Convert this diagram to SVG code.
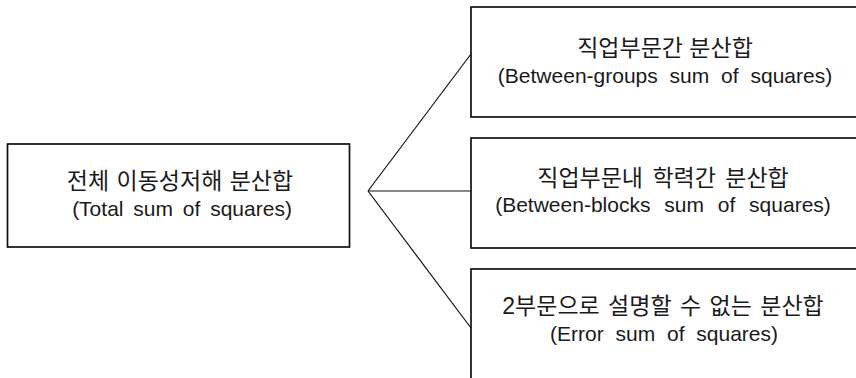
<svg xmlns="http://www.w3.org/2000/svg" width="856" height="378" viewBox="0 0 856 378">
<style>
.box{fill:#fff;stroke:#111;stroke-width:1.7}
.con{fill:none;stroke:#111;stroke-width:1.2}
text{font-family:"Liberation Sans","Noto Sans CJK KR",sans-serif;font-size:21px;fill:#1a1a1a;text-anchor:middle}
text.ko{font-size:23px}
</style>
<rect width="856" height="378" fill="#fff"/>
<g id="connectors">
<line class="con" x1="368" y1="191" x2="471" y2="54"/>
<line class="con" x1="368" y1="191" x2="471" y2="191"/>
<line class="con" x1="368" y1="191" x2="471" y2="328"/>
</g>
<g id="total">
<rect class="box" x="7.5" y="144" width="342" height="103"/>
<text class="ko" x="180" y="189" style="word-spacing:1px">전체 이동성저해 분산합</text>
<text x="182" y="216" style="word-spacing:4px">(Total sum of squares)</text>
</g>
<g id="between-groups">
<rect class="box" x="471" y="7" width="420" height="110"/>
<text class="ko" x="665" y="56" style="word-spacing:0px">직업부문간 분산합</text>
<text x="665" y="83" style="word-spacing:6px">(Between-groups sum of squares)</text>
</g>
<g id="between-blocks">
<rect class="box" x="471" y="138" width="420" height="110"/>
<text class="ko" x="663" y="186" style="word-spacing:3px">직업부문내 학력간 분산합</text>
<text x="663" y="212" style="word-spacing:8px">(Between-blocks sum of squares)</text>
</g>
<g id="error">
<rect class="box" x="471" y="269" width="420" height="140"/>
<text class="ko" x="663" y="314" style="word-spacing:2px">2부문으로 설명할 수 없는 분산합</text>
<text x="664" y="341" style="word-spacing:6px">(Error sum of squares)</text>
</g>
</svg>
